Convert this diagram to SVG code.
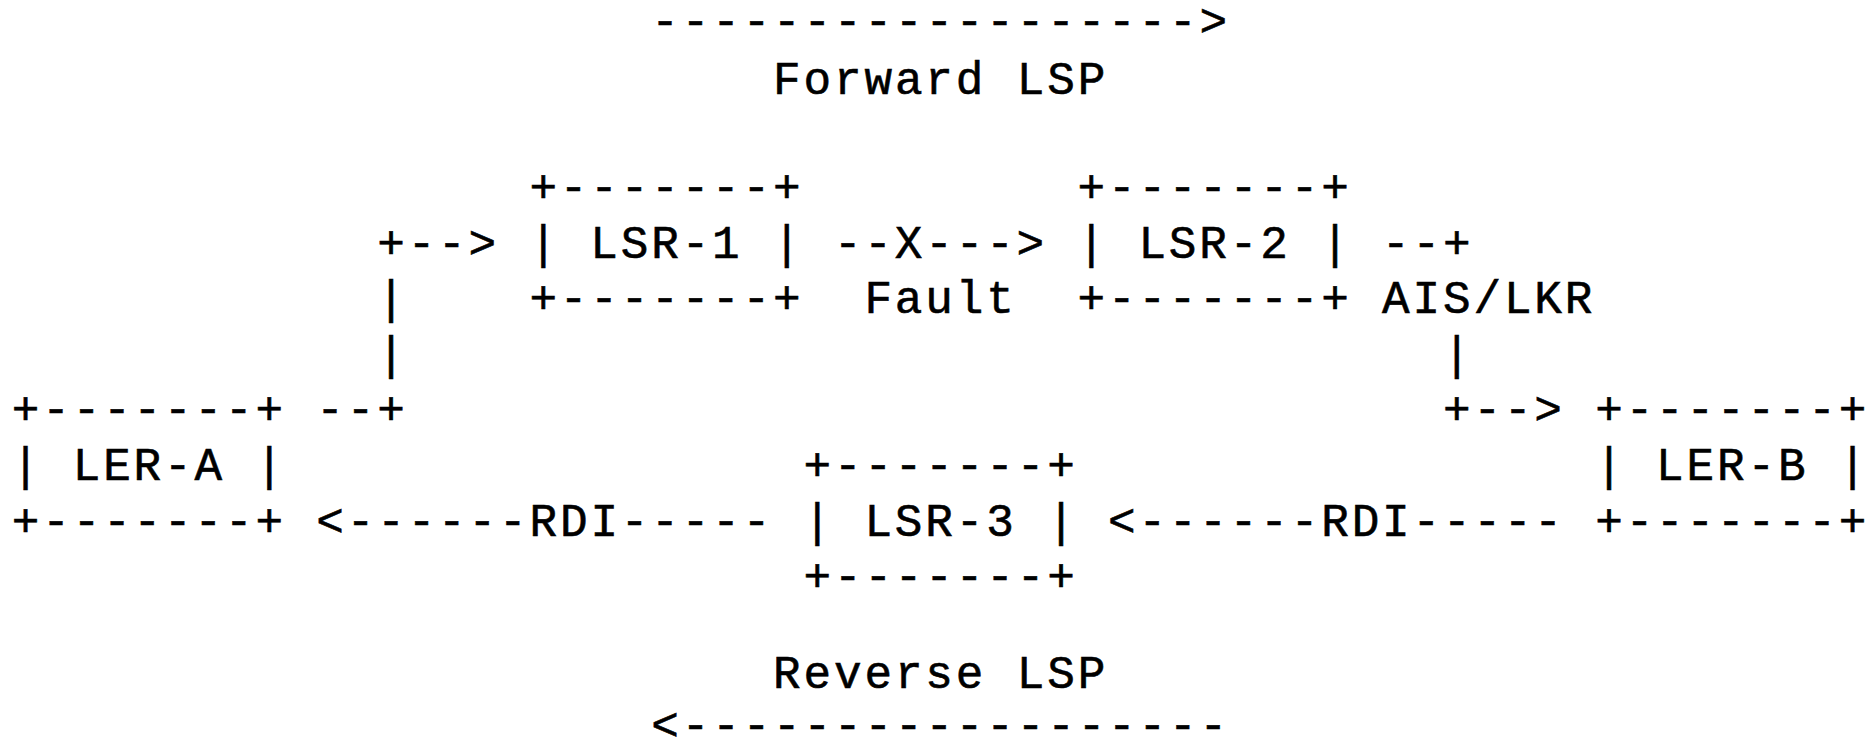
<svg xmlns="http://www.w3.org/2000/svg" width="1870" height="754" viewBox="0 0 1870 754">
<style>
text{font-family:"Liberation Mono","DejaVu Sans Mono",monospace;font-size:46px;letter-spacing:2.85px;fill:#000;stroke:#000;stroke-width:0.6px;white-space:pre}
</style>
<rect width="1870" height="754" fill="#fff"/>
<g id="connectors">
  <text x="651.3" y="36">------------------&gt;</text>
  <text x="773.1" y="94">Forward LSP</text>
  <text x="377.2" y="258">+--&gt;</text>
  <text x="377.2" y="313">|</text>
  <text x="377.2" y="369">|</text>
  <text x="316.3" y="424">--+</text>
  <text x="833.9" y="258">--X---&gt;</text>
  <text x="864.4" y="313">Fault</text>
  <text x="1382.1" y="258">--+</text>
  <text x="1382.1" y="313">AIS/LKR</text>
  <text x="1443.0" y="369">|</text>
  <text x="1443.0" y="424">+--&gt;</text>
  <text x="316.3" y="536">&lt;------RDI-----</text>
  <text x="1108.0" y="536">&lt;------RDI-----</text>
  <text x="773.1" y="688">Reverse LSP</text>
  <text x="651.3" y="740">&lt;------------------</text>
</g>
<g id="LSR-1">
  <text x="529.4" y="202">+-------+</text>
  <text x="529.4" y="258">| LSR-1 |</text>
  <text x="529.4" y="313">+-------+</text>
</g>
<g id="LSR-2">
  <text x="1077.5" y="202">+-------+</text>
  <text x="1077.5" y="258">| LSR-2 |</text>
  <text x="1077.5" y="313">+-------+</text>
</g>
<g id="LER-A">
  <text x="11.8" y="424">+-------+</text>
  <text x="11.8" y="480">| LER-A |</text>
  <text x="11.8" y="536">+-------+</text>
</g>
<g id="LSR-3">
  <text x="803.5" y="480">+-------+</text>
  <text x="803.5" y="536">| LSR-3 |</text>
  <text x="803.5" y="591">+-------+</text>
</g>
<g id="LER-B">
  <text x="1595.2" y="424">+-------+</text>
  <text x="1595.2" y="480">| LER-B |</text>
  <text x="1595.2" y="536">+-------+</text>
</g>
</svg>
